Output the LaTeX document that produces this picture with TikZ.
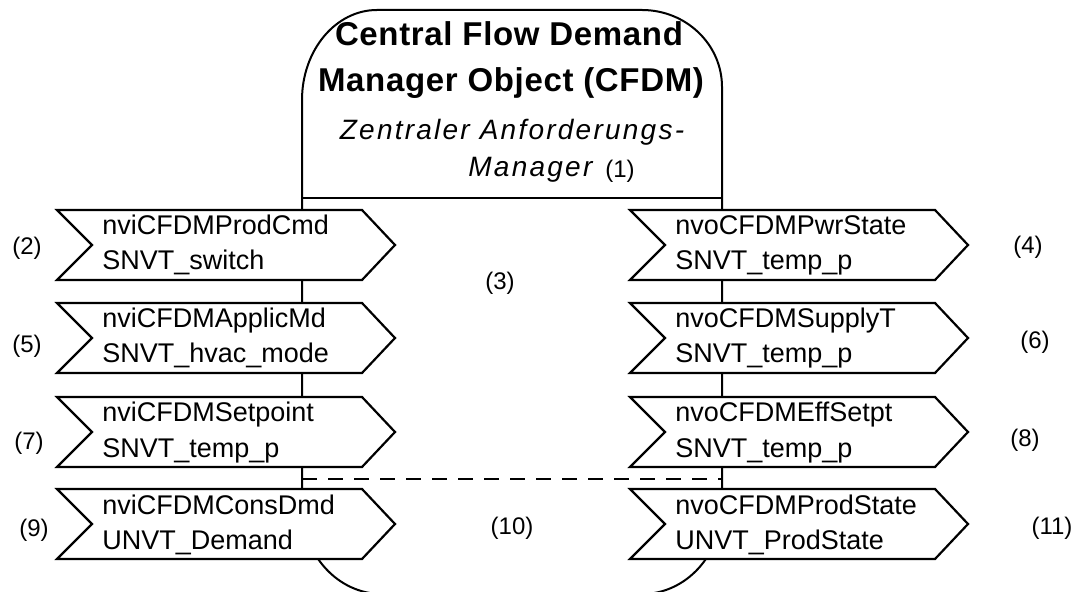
\documentclass[tikz,border=0pt]{standalone}
\usepackage{fontspec}
\setmainfont{Liberation Sans}
\newfontfamily\spacedit[LetterSpace=8]{Liberation Sans}
\newfontfamily\spacedbf[LetterSpace=2]{Liberation Sans}
\tikzset{
  outl/.style={draw=black, line width=1pt},
  sigbox/.style={draw=black, fill=white, line width=1.1pt, line join=miter},
  sigtext/.style={inner sep=0pt, font=\fontsize{13.5}{16}\selectfont, anchor=base west},
  numlbl/.style={inner sep=0pt, font=\fontsize{12}{14}\selectfont},
  title/.style={inner sep=0pt, font=\spacedbf\bfseries\fontsize{16.5}{19}\selectfont, anchor=base},
  subtitle/.style={inner sep=0pt, font=\spacedit\itshape\fontsize{14}{16}\selectfont},
}
\newcommand\sigshape[5]{% name, x0, top, line1, line2
  \draw[sigbox] (#2,-#3) -- ++(305,0) -- ++(33,-35) -- ++(-33,-35) -- ++(-305,0) -- ++(35,35) -- cycle;
  \node[sigtext] (#1a) at (#2+45,-#3-25) {#4};
  \node[sigtext] (#1b) at (#2+45,-#3-60) {#5};
}
\begin{document}
\begin{tikzpicture}[x=0.5pt,y=0.5pt]
\useasboundingbox (0,0) rectangle (1074,-592);
\clip (0,0) rectangle (1074,-592);
% main object
\draw[outl] (302,-506) -- (302,-100)
  arc[start angle=180, end angle=90, x radius=75, y radius=90]
  -- (642,-10)
  arc[start angle=90, end angle=0, x radius=80, y radius=77]
  -- (722,-506)
  arc[start angle=0, end angle=-90, x radius=80, y radius=88]
  -- (382,-594)
  arc[start angle=270, end angle=180, x radius=80, y radius=88]
  -- cycle;
\draw[outl] (302,-198) -- (722,-198);
\draw[outl, dash pattern=on 7.5pt off 5.5pt] (302,-479) -- (722,-479);
% header texts
\node[title] (t1) at (509,-46) {Central Flow Demand};
\node[title] (t2) at (511,-92) {Manager Object (CFDM)};
\node[subtitle, anchor=base] (t3) at (512,-140) {Zentraler Anforderungs-};
\node[subtitle, anchor=base west] (t4) at (468,-177) {Manager};
\node[numlbl, anchor=base west] (n1) at (605,-178) {(1)};
% left inputs
\sigshape{i1}{57}{210}{nviCFDMProdCmd}{SNVT\_switch}
\sigshape{i2}{57}{303}{nviCFDMApplicMd}{SNVT\_hvac\_mode}
\sigshape{i3}{57}{397}{nviCFDMSetpoint}{SNVT\_temp\_p}
\sigshape{i4}{57}{489}{nviCFDMConsDmd}{UNVT\_Demand}
% right outputs
\sigshape{o1}{630}{210}{nvoCFDMPwrState}{SNVT\_temp\_p}
\sigshape{o2}{630}{303}{nvoCFDMSupplyT}{SNVT\_temp\_p}
\sigshape{o3}{630}{397}{nvoCFDMEffSetpt}{SNVT\_temp\_p}
\sigshape{o4}{630}{489}{nvoCFDMProdState}{UNVT\_ProdState}
% number labels
\node[numlbl] (n2) at (27,-248) {(2)};
\node[numlbl] (n5) at (27,-346) {(5)};
\node[numlbl] (n7) at (29,-443) {(7)};
\node[numlbl] (n9) at (34,-530) {(9)};
\node[numlbl] (n3) at (500,-283) {(3)};
\node[numlbl] (n10) at (512,-528) {(10)};
\node[numlbl] (n4) at (1028,-247) {(4)};
\node[numlbl] (n6) at (1035,-342) {(6)};
\node[numlbl] (n8) at (1025,-440) {(8)};
\node[numlbl] (n11) at (1052,-528) {(11)};
\end{tikzpicture}
\end{document}
